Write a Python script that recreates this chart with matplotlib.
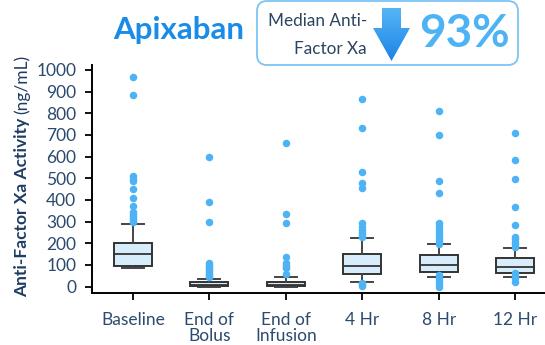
import matplotlib
matplotlib.use('Agg')
import matplotlib.pyplot as plt
import numpy as np
from matplotlib.patches import FancyBboxPatch, Polygon

plt.rcParams['font.family'] = ['Lato', 'DejaVu Sans']

# anti-Xa activity (ng/mL) summary per sampling time
categories = ['Baseline', 'End of\nBolus', 'End of\nInfusion', '4 Hr', '8 Hr', '12 Hr']
q1 = [97, 3, 2, 57, 68, 65]
medians = [150, 8, 8, 94, 100, 91]
q3 = [200, 20, 20, 151, 145, 131]
whisker_low = [85, 0, 0, 23, 45, 45]
whisker_high = [289, 37, 45, 222, 197, 179]
outliers = [
    [965, 885, 508, 496, 485, 449, 408, 374, 346, 336, 326, 316, 306, 298],
    [600, 392, 300, 108, 100, 92, 84, 76, 68, 60, 52, 46],
    [662, 334, 295, 136, 108, 100, 92, 85, 57],
    [865, 734, 528, 476, 454, 295, 277, 262, 248, 238, 231, 15, 8, 2],
    [809, 699, 485, 431, 295, 280, 265, 250, 236, 222, 210, 197, 54, 40, 25, 10, 0],
    [708, 583, 496, 366, 282, 231, 220, 208, 196, 185, 62, 50, 38, 23],
]
y_ticks = list(range(0, 1001, 100))
drug = 'Apixaban'
median_drop = 93

tick_color = '#2b4a6e'
dot_color = '#4db3f5'

fig = plt.figure(figsize=(5.45, 3.45), dpi=100)
ax = fig.add_axes([0.168, 0.151, 0.832, 0.661])

stats = []
for i in range(len(categories)):
    stats.append({'med': medians[i], 'q1': q1[i], 'q3': q3[i],
                  'whislo': whisker_low[i], 'whishi': whisker_high[i],
                  'fliers': outliers[i]})

ax.bxp(stats, positions=range(len(categories)), widths=0.5, capwidths=0.29,
       patch_artist=True,
       boxprops=dict(facecolor='#d8edfc', edgecolor='#333333', linewidth=1.4),
       medianprops=dict(color='#333333', linewidth=1.3),
       whiskerprops=dict(color='#444444', linewidth=1.4),
       capprops=dict(color='#444444', linewidth=1.4),
       flierprops=dict(marker='o', markersize=4.4, markerfacecolor=dot_color,
                       markeredgecolor=dot_color))

ax.set_xlim(-0.54, 5.39)
ax.set_ylim(-29, 1023)
ax.set_yticks(y_ticks)
ax.set_xticks(range(len(categories)))
ax.set_xticklabels(categories, linespacing=1.0)
ax.spines['top'].set_visible(False)
ax.spines['right'].set_visible(False)
for s in ['left', 'bottom']:
    ax.spines[s].set_linewidth(1.4)
ax.tick_params(axis='both', length=5, width=1.3, colors='black',
               labelcolor=tick_color, labelsize=12.5)
ax.tick_params(axis='x', pad=9)
ax.tick_params(axis='y', pad=6)

# header and y label drawn in pixel space
ov = fig.add_axes([0, 0, 1, 1], zorder=5)
ov.axis('off')
ov.patch.set_alpha(0)

t1 = ov.text(22, 297, 'Anti-Factor Xa Activity', rotation=90, ha='center',
             va='bottom', fontsize=12.5, fontweight='bold', color='#1f3d63')
ov.annotate('(ng/mL)', xy=(0.5, 1.0), xycoords=t1, xytext=(0, 3),
            textcoords='offset points', rotation=90, ha='center', va='bottom',
            fontsize=12.5, color='#1f3d63')

ov.text(244, 30, drug, ha='right', va='center', fontsize=22.5,
        fontweight='bold', color='#1a8ce8')

box = FancyBboxPatch((257, 1), 261, 64, boxstyle='round,pad=0,rounding_size=10',
                     facecolor='white', edgecolor='#7cc4f4', linewidth=1.3,
                     zorder=1)
ov.add_patch(box)
ov.text(367, 21.5, 'Median Anti-', ha='right', va='center', fontsize=12.3,
        color='#2b4462')
ov.text(367, 48.5, 'Factor Xa', ha='right', va='center', fontsize=12.3,
        color='#2b4462')

# down arrow with a vertical blue gradient
arrow = Polygon([(382, 8), (401, 8), (401, 28), (410, 28), (391.5, 61),
                 (373, 28), (382, 28)], closed=True, facecolor='none',
                edgecolor='none', zorder=2)
ov.add_patch(arrow)
grad = np.linspace(0, 1, 100).reshape(-1, 1)
cmap = matplotlib.colors.LinearSegmentedColormap.from_list('b', ['#55b5f7', '#1c83e5'])
img = ov.imshow(grad, cmap=cmap, extent=(373, 410, 61, 8), aspect='auto',
                origin='upper', zorder=3)
img.set_clip_path(arrow)
ov.set_xlim(0, 545)
ov.set_ylim(345, 0)

ov.text(419, 34, f'{median_drop}%', ha='left', va='center', fontsize=33,
        fontweight='bold', color=dot_color)

fig.savefig('out.png', dpi=100)
